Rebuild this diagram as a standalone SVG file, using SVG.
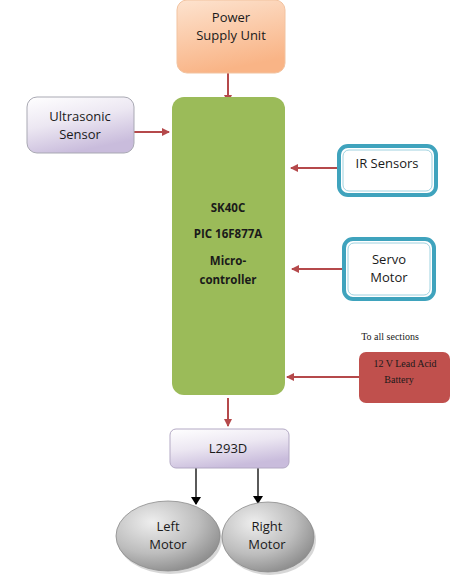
<svg xmlns="http://www.w3.org/2000/svg" width="456" height="581" viewBox="0 0 456 581">
<style>
.t{font-family:"Open Sans","Liberation Sans",sans-serif;font-size:13px;fill:#1a1a1a;text-anchor:middle}
.b{font-family:"Open Sans","Liberation Sans",sans-serif;font-size:11.5px;font-weight:bold;fill:#1a1a1a;text-anchor:middle}
.s{font-family:"Liberation Serif",serif;font-size:10px;fill:#1a1a1a;text-anchor:middle}
.red{stroke:#b5494b;stroke-width:2;fill:none}
.blk{stroke:#000;stroke-width:1.3;fill:none}
.teal{fill:#fff;stroke:#3fa3bd;stroke-width:4}
</style>
<defs>
<linearGradient id="peach" x1="0" y1="0" x2="0.3" y2="1">
<stop offset="0" stop-color="#fde3cf"/><stop offset="1" stop-color="#f9b486"/>
</linearGradient>
<linearGradient id="lav" x1="0" y1="0" x2="0.4" y2="1">
<stop offset="0" stop-color="#ffffff"/><stop offset="0.5" stop-color="#ece7f2"/><stop offset="1" stop-color="#c9bcdc"/>
</linearGradient>
<radialGradient id="gray" cx="0.35" cy="0.3" r="0.75">
<stop offset="0" stop-color="#eeeeee"/><stop offset="0.6" stop-color="#bdbdbd"/><stop offset="1" stop-color="#8c8c8c"/>
</radialGradient>
<marker id="ar" markerWidth="8" markerHeight="8" refX="7" refY="4" orient="auto" markerUnits="userSpaceOnUse">
<path d="M0,0 L8,4 L0,8 Z" fill="#b5494b"/>
</marker>
<marker id="ak" markerWidth="8" markerHeight="10" refX="7" refY="5" orient="auto" markerUnits="userSpaceOnUse">
<path d="M0,0 L8,5 L0,10 Z" fill="#000"/>
</marker>
</defs>
<rect width="456" height="581" fill="#fff"/>
<g id="connectors">
<line class="red" x1="228" y1="73" x2="228" y2="102" marker-end="url(#ar)"/>
<line class="red" x1="134" y1="132" x2="169" y2="132" marker-end="url(#ar)"/>
<line class="red" x1="337" y1="168" x2="291" y2="168" marker-end="url(#ar)"/>
<line class="red" x1="342" y1="269" x2="292" y2="269" marker-end="url(#ar)"/>
<line class="red" x1="359" y1="377" x2="287" y2="377" marker-end="url(#ar)"/>
<line class="red" x1="228" y1="398" x2="228" y2="426" marker-end="url(#ar)"/>
<line class="blk" x1="196" y1="468" x2="196" y2="504" marker-end="url(#ak)"/>
<line class="blk" x1="258" y1="468" x2="258" y2="503" marker-end="url(#ak)"/>
</g>
<g id="psu">
<rect x="177" y="0" width="108" height="73" rx="10" fill="url(#peach)" stroke="#f2c3a0" stroke-width="1"/>
<text class="t" x="231" y="22">Power</text>
<text class="t" x="231" y="40">Supply Unit</text>
</g>
<g id="mcu">
<rect x="172" y="97" width="113" height="298" rx="12" fill="#9bbb59"/>
<text class="b" x="228" y="212">SK40C</text>
<text class="b" x="228" y="238">PIC 16F877A</text>
<text class="b" x="228" y="265">Micro-</text>
<text class="b" x="228" y="284">controller</text>
</g>
<g id="ultrasonic">
<rect x="27" y="97" width="107" height="56" rx="10" fill="url(#lav)" stroke="#a9a9b3" stroke-width="1"/>
<text class="t" x="80" y="121">Ultrasonic</text>
<text class="t" x="80" y="139">Sensor</text>
</g>
<g id="ir">
<rect x="339" y="146" width="97" height="49" rx="9" class="teal"/>
<rect x="343" y="150" width="89" height="41" rx="6" fill="none" stroke="#9fd2e0" stroke-width="1"/>
<text class="t" x="387" y="168">IR Sensors</text>
</g>
<g id="servo">
<rect x="344" y="239" width="90" height="60" rx="9" class="teal"/>
<rect x="348" y="243" width="82" height="52" rx="6" fill="none" stroke="#9fd2e0" stroke-width="1"/>
<text class="t" x="389" y="264">Servo</text>
<text class="t" x="389" y="282">Motor</text>
</g>
<g id="battery">
<text class="s" x="390" y="340">To all sections</text>
<rect x="359" y="352" width="91" height="51" rx="7" fill="#c0504d"/>
<text class="s" x="405" y="367">12 V Lead Acid</text>
<text class="s" x="399" y="383">Battery</text>
</g>
<g id="l293d">
<rect x="170" y="429" width="119" height="39" rx="6" fill="url(#lav)" stroke="#b3a9c4" stroke-width="1"/>
<text class="t" x="228" y="453">L293D</text>
</g>
<g id="leftmotor">
<ellipse cx="170" cy="539" rx="52" ry="35" fill="#b0b0b0" opacity="0.5"/>
<ellipse cx="168" cy="536" rx="52" ry="35" fill="url(#gray)" stroke="#8a8a8a" stroke-width="0.8"/>
<text class="t" x="168" y="531">Left</text>
<text class="t" x="168" y="549">Motor</text>
</g>
<g id="rightmotor">
<ellipse cx="270" cy="540" rx="46" ry="35" fill="#b0b0b0" opacity="0.5"/>
<ellipse cx="268" cy="537" rx="46" ry="35" fill="url(#gray)" stroke="#8a8a8a" stroke-width="0.8"/>
<text class="t" x="267" y="531">Right</text>
<text class="t" x="267" y="549">Motor</text>
</g>
</svg>
